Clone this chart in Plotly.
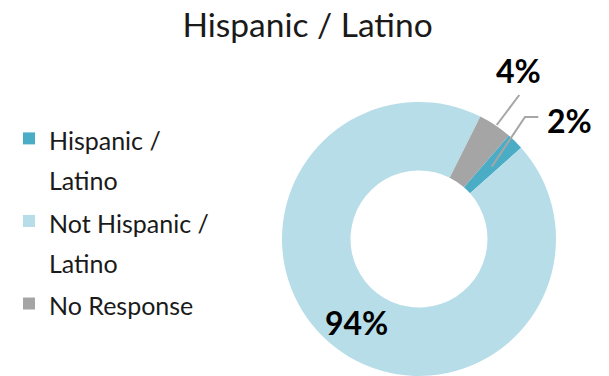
import math
import plotly.graph_objects as go

# Survey responses (percent of respondents)
labels = ["Hispanic /<br>Latino", "Not Hispanic /<br>Latino", "No Response"]
values = [2, 94, 4]
colors = ["#4BACC6", "#B7DDE8", "#A5A5A5"]

W, H = 609, 376
FONT = "Lato"
ROTATION = 41
HOLE = 0.5

# pie placement in pixels
CX, CY, R = 419, 239, 137


def px(x):
    return x / W


def py(y):
    return 1 - y / H


# legend text is drawn smaller than the legend's base size so that
# the line pitch (1.3 x base size) leaves room between entries
legend_labels = [f"<span style='font-size:25px'>{t}</span>" for t in labels]

fig = go.Figure(
    go.Pie(
        labels=legend_labels,
        values=values,
        hole=HOLE,
        sort=False,
        direction="clockwise",
        rotation=ROTATION,
        marker=dict(colors=colors, line=dict(width=0)),
        textinfo="none",
        domain=dict(x=[px(CX - R), px(CX + R)], y=[0, 2 * R / H]),
        showlegend=True,
    )
)

label_font = dict(family=FONT, size=32, color="#000000")

# label for the large slice, centred in the ring at the slice's mid-angle
total = sum(values)
mid_deg = ROTATION + 360 * (values[0] + values[1] / 2) / total
mid_r = R * (1 + HOLE) / 2
lx = CX + mid_r * math.sin(math.radians(mid_deg))
ly = CY - mid_r * math.cos(math.radians(mid_deg))
fig.add_annotation(
    x=px(lx), y=py(ly + 2), xref="paper", yref="paper",
    text=f"<b>{round(100 * values[1] / total)}%</b>", showarrow=False,
    font=label_font, xanchor="center", yanchor="middle",
)

# labels for the two thin slices, with their leader lines
line_color = "#A6A6A6"
fig.add_annotation(
    x=px(518), y=py(70), xref="paper", yref="paper",
    text=f"<b>{round(100 * values[2] / total)}%</b>", showarrow=False,
    font=label_font, xanchor="center", yanchor="middle",
)
fig.add_annotation(
    x=px(569), y=py(120), xref="paper", yref="paper",
    text=f"<b>{round(100 * values[0] / total)}%</b>", showarrow=False,
    font=label_font, xanchor="center", yanchor="middle",
)
fig.add_shape(
    type="path", xref="paper", yref="paper",
    path=f"M{px(519.3)},{py(95)} L{px(496.7)},{py(125)}",
    line=dict(color=line_color, width=2),
)
fig.add_shape(
    type="path", xref="paper", yref="paper",
    path=f"M{px(538.3)},{py(117)} L{px(525)},{py(117)} L{px(491.7)},{py(166.7)}",
    line=dict(color=line_color, width=2),
)

fig.update_layout(
    width=W,
    height=H,
    margin=dict(l=0, r=0, t=0, b=0),
    paper_bgcolor="#FFFFFF",
    plot_bgcolor="#FFFFFF",
    title=dict(
        text="Hispanic / Latino",
        font=dict(family=FONT, size=33.5, color="#1A1A1A"),
        x=0.505, xanchor="center",
        yref="container", y=1 - 25 / H, yanchor="middle",
    ),
    legend=dict(
        x=px(9), xanchor="left",
        y=py(112), yanchor="top",
        font=dict(family=FONT, size=30.6, color="#1A1A1A"),
        valign="top",
        bgcolor="rgba(0,0,0,0)",
    ),
)

fig.write_html("out.html")
